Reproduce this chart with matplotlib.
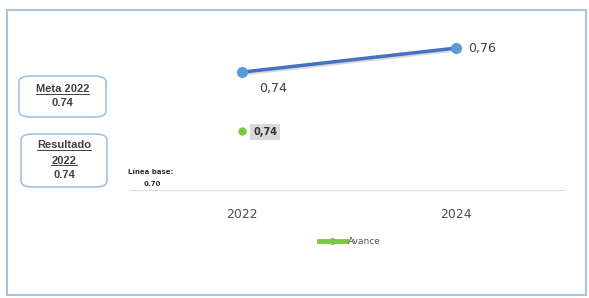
import matplotlib.pyplot as plt
from matplotlib.patches import FancyBboxPatch, Rectangle

years = [2022, 2024]
meta = [0.74, 0.76]
meta_labels = ['0,74', '0,76']
avance_years = [2022]
avance = [0.74]
avance_labels = ['0,74']
linea_base = 0.70

fig = plt.figure(figsize=(5.89, 2.98), dpi=100)
fig.patch.set_facecolor('white')

# outer frame
fig.patches.append(Rectangle((7 / 589, 3 / 298), 579 / 589, 285 / 298,
                             transform=fig.transFigure, fill=False,
                             edgecolor='#a8c3dd', linewidth=1.5))

ax = fig.add_axes([0.2207, 0.362, 0.738, 0.537])
ax.set_xlim(2020.95, 2025.02)
ax.set_ylim(0.6417, 0.775)

# meta line with a light shadow
ax.plot(years, [v - 0.0012 for v in meta], color='#d9d9d9', linewidth=3, zorder=1)
ax.plot(years, meta, color='#4472c4', linewidth=2.5, marker='o',
        markersize=7, markerfacecolor='#5b9bd5', markeredgecolor='#5b9bd5', zorder=3)
ax.annotate(meta_labels[0], (years[0], meta[0]), xytext=(12, -14),
            textcoords='offset points', fontsize=9, color='#404040')
ax.annotate(meta_labels[1], (years[1], meta[1]), xytext=(9, -3),
            textcoords='offset points', fontsize=9, color='#404040')

# avance on a hidden secondary scale
ax2 = ax.twinx()
ax2.set_ylim(0.69, 0.825)
ax2.plot(avance_years, avance, color='#7ac943', marker='o', markersize=5,
         linestyle='none', zorder=3)
for x, v, t in zip(avance_years, avance, avance_labels):
    ax2.annotate(t, (x, v), xytext=(8, -3), textcoords='offset points',
                 fontsize=7, color='#303030', fontweight='bold',
                 bbox=dict(boxstyle='square,pad=0.3', facecolor='#d9d9d9',
                           edgecolor='none'))

for a in (ax, ax2):
    a.set_yticks([])
    for s in a.spines.values():
        s.set_visible(False)

ax.spines['bottom'].set_visible(True)
ax.spines['bottom'].set_color('#dadada')
ax.spines['bottom'].set_linestyle((0, (1, 1)))
ax.set_xticks(years)
ax.set_xticklabels([str(y) for y in years], fontsize=9, color='#505050')
ax.tick_params(axis='x', length=0, pad=13)

ax.text(2020.93, 0.6417 + 0.0155, 'Línea base:', fontsize=5, fontweight='bold',
        color='#303030', ha='left', va='center')
ax.text(2021.08, 0.6417 + 0.0048, f'{linea_base:.2f}', fontsize=5, fontweight='bold',
        color='#303030', ha='left', va='center')

# legend
fig.legend([plt.Line2D([], [], color='#7ac943', linewidth=3.5, marker='o', markersize=4)],
           ['Avance'], loc='center', bbox_to_anchor=(0.594, 0.188), frameon=False,
           fontsize=6.5, handlelength=3.0, handletextpad=0.3, labelcolor='#505050')

# side boxes
titles = []
for (x0, y0, w, h), lines, gap in [((19, 76, 87, 41), ['Meta 2022', '0.74'], 14),
                                   ((21, 134, 86, 53), ['Resultado', '2022', '0.74'], 15)]:
    fig.patches.append(FancyBboxPatch((x0 / 589, 1 - (y0 + h) / 298), w / 589, h / 298,
                                      boxstyle='round,pad=0,rounding_size=0.02',
                                      transform=fig.transFigure, facecolor='white',
                                      edgecolor='#9dc3e6', linewidth=1.2))
    n = len(lines)
    for i, t in enumerate(lines):
        yc = y0 + h / 2 + (i - (n - 1) / 2) * gap
        txt = fig.text((x0 + w / 2) / 589, 1 - yc / 298, t, ha='center', va='center',
                       fontsize=8, fontweight='bold', color='#404040',
                       fontfamily='Liberation Sans')
        if i < n - 1:
            titles.append(txt)

# underline the titles
fig.canvas.draw()
renderer = fig.canvas.get_renderer()
inv = fig.transFigure.inverted()
for txt in titles:
    bb = txt.get_window_extent(renderer)
    (xa, ya), (xb, yb) = inv.transform([(bb.x0, bb.y0), (bb.x1, bb.y1)])
    fig.lines.append(plt.Line2D([xa, xb], [ya + 0.2 / 298] * 2,
                                transform=fig.transFigure, color='#404040', linewidth=0.7))

fig.savefig('out.png', dpi=100)
